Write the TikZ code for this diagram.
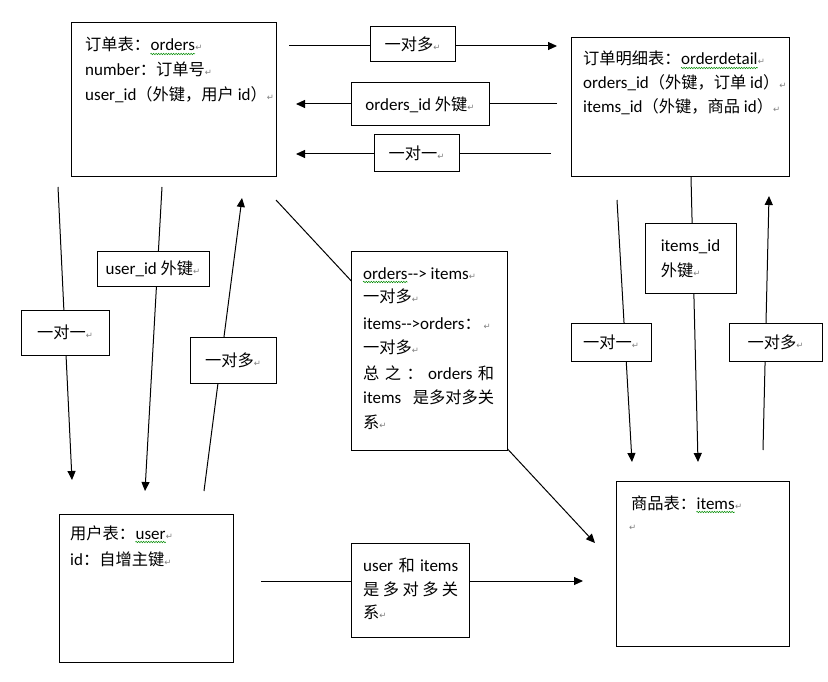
\documentclass[tikz,border=0pt]{standalone}
\usepackage{fontspec}
\setmainfont{Carlito}
\newfontfamily\cjk[Scale=0.956]{Noto Sans CJK SC}
\newfontfamily\symf{DejaVu Sans}
\usetikzlibrary{arrows.meta,decorations.pathmorphing}
\newcommand\zh[1]{{\cjk #1}}
\newcommand\rt{{\symf\fontsize{8.5}{8.5}\selectfont\color{gray}↵}}
\tikzset{
  box/.style={draw, line width=1pt, fill=white, inner sep=0pt},
  lab/.style={box, font=\fontsize{17}{25}\selectfont, align=center},
  t/.style={anchor=base west, inner sep=0pt, font=\fontsize{17}{20}\selectfont},
  conn/.style={line width=1pt},
  arr/.style={conn, -{Triangle[length=9pt,width=8pt]}},
  sq/.style={draw=green!55!black, line width=0.5pt, decorate, decoration={snake, amplitude=0.7pt, segment length=2.5pt}},
}
\begin{document}
\begin{tikzpicture}[x=1pt,y=-1pt]
\useasboundingbox[fill=white] (0,0) rectangle (828,682);

% free connector ends
\coordinate (t1s) at (289,46);  \coordinate (t1e) at (557,46);
\coordinate (t2s) at (557,104); \coordinate (t2e) at (296,104);
\coordinate (t3s) at (551,154); \coordinate (t3e) at (296,154);
\coordinate (As) at (58,187);   \coordinate (Ae) at (72,480);
\coordinate (Bs) at (162,187);  \coordinate (Be) at (145,491);
\coordinate (Cs) at (204,491);  \coordinate (Ce) at (242,198);
\coordinate (Gs) at (276,200);  \coordinate (Ge) at (595,543);
\coordinate (Ds) at (617,200);  \coordinate (De) at (632,462);
\coordinate (Es) at (691,177);  \coordinate (Ee) at (698,462);
\coordinate (Fs) at (763,450);  \coordinate (Fe) at (769,196);
\coordinate (Hs) at (261,581);  \coordinate (He) at (583,581);

% connectors
\draw[arr] (t1s) -- (t1e);
\draw[arr] (t2s) -- (t2e);
\draw[arr] (t3s) -- (t3e);
\draw[arr] (As) -- (Ae);
\draw[arr] (Bs) -- (Be);
\draw[arr] (Cs) -- (Ce);
\draw[arr] (Gs) -- (Ge);
\draw[arr] (Ds) -- (De);
\draw[arr] (Es) -- (Ee);
\draw[arr] (Fs) -- (Fe);
\draw[arr] (Hs) -- (He);

% main boxes
\node[box, minimum width=205pt, minimum height=154pt] (orders) at (173.5,100) {};
\node[box, minimum width=218pt, minimum height=139pt] (detail) at (680,107.5) {};
\node[box, minimum width=156pt, minimum height=199pt] (note) at (429,350.5) {};
\node[box, minimum width=174pt, minimum height=148pt] (user) at (146,588) {};
\node[box, minimum width=173pt, minimum height=165pt] (items) at (702.5,563.5) {};
\node[box, minimum width=118pt, minimum height=94pt] (um) at (410,590) {};

% label boxes
\node[lab, minimum width=85pt, minimum height=35pt] (l1) at (412.5,44.5) {\zh{一对多}\rt};
\node[lab, minimum width=138pt, minimum height=43pt] (l2) at (420,104.5) {orders\_id \zh{外键}\rt};
\node[lab, minimum width=85pt, minimum height=37pt] (l3) at (416.5,153.5) {\zh{一对一}\rt};
\node[lab, minimum width=88pt, minimum height=45pt] (lA) at (65,332.5) {\zh{一对一}\rt};
\node[lab, minimum width=112pt, minimum height=35pt] (lB) at (153,268.5) {user\_id \zh{外键}\rt};
\node[lab, minimum width=86pt, minimum height=46pt] (lC) at (233,360) {\zh{一对多}\rt};
\node[lab, minimum width=80pt, minimum height=38pt] (lD) at (611,342) {\zh{一对一}\rt};
\node[lab, align=left, minimum width=91pt, minimum height=69pt] (lE) at (690.5,258.5) {items\_id\\\zh{外键}\rt};
\node[lab, minimum width=93pt, minimum height=38pt] (lF) at (775.5,342) {\zh{一对多}\rt};

% orders text
\node[t] (o1a) at (85,51) {\zh{订单表：}};
\node[t] (o1b) at (o1a.base east) {orders};
\node[t] (o1c) at (o1b.base east) {\rt};
\draw[sq] ([yshift=-3pt]o1b.base west) -- ([yshift=-3pt]o1b.base east);
\node[t] (o2) at (85,76) {number\zh{：订单号}\rt};
\node[t] (o3) at (85,101) {user\_id\zh{（外键，用户} id\zh{）}\rt};

% orderdetail text
\node[t] (d1a) at (583,65) {\zh{订单明细表：}};
\node[t] (d1b) at (d1a.base east) {orderdetail};
\node[t] (d1c) at (d1b.base east) {\rt};
\draw[sq] ([yshift=-3pt]d1b.base west) -- ([yshift=-3pt]d1b.base east);
\node[t] (d2) at (583,89) {orders\_id\zh{（外键，订单} id\zh{）}\rt};
\node[t] (d3) at (583,113) {items\_id\zh{（外键，商品} id\zh{）}\rt};

% note text
\node[t] (n1a) at (363,279) {orders};
\node[t] (n1b) at (n1a.base east) {-{}-> items\rt};
\draw[sq] ([yshift=-3pt]n1a.base west) -- ([yshift=-3pt]n1a.base east);
\node[t] (n2) at (363,302) {\zh{一对多}\rt};
\node[t] (n3) at (363,329) {items-{}->orders\zh{：}\,\rt};
\node[t] (n4) at (363,353) {\zh{一对多}\rt};
\node[t] (n5) at (363,379) {\hbox to 131pt{\zh{总}\hfil\zh{之}\hfil\zh{：}\hfil orders\hfil\zh{和}}};
\node[t] (n6) at (363,403) {\hbox to 131pt{items\hfil\zh{是多对多关}}};
\node[t] (n7) at (363,428) {\zh{系}\rt};

% user text
\node[t] (u1a) at (70,539) {\zh{用户表：}};
\node[t] (u1b) at (u1a.base east) {user};
\node[t] (u1c) at (u1b.base east) {\rt};
\draw[sq] ([yshift=-3pt]u1b.base west) -- ([yshift=-3pt]u1b.base east);
\node[t] (u2) at (70,565) {id\zh{：自增主键}\rt};

% items text
\node[t] (i1a) at (631,509) {\zh{商品表：}};
\node[t] (i1b) at (i1a.base east) {items};
\node[t] (i1c) at (i1b.base east) {\rt};
\draw[sq] ([yshift=-3pt]i1b.base west) -- ([yshift=-3pt]i1b.base east);
\node[t] (i2) at (629,530) {\rt};

% user-items label text
\node[t] (m1) at (363,571) {\hbox to 95pt{user\hfil\zh{和}\hfil items}};
\node[t] (m2) at (363,595) {\hbox to 95pt{\zh{是}\hfil\zh{多}\hfil\zh{对}\hfil\zh{多}\hfil\zh{关}}};
\node[t] (m3) at (363,618) {\zh{系}\rt};
\end{tikzpicture}
\end{document}
